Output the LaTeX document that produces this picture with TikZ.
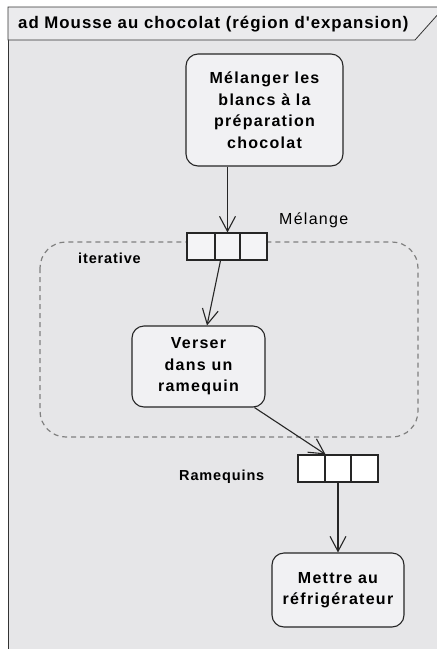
\documentclass[tikz,border=0pt]{standalone}
\usepackage{fontspec}
\setmainfont{Liberation Sans}
\usetikzlibrary{arrows.meta,calc}
\definecolor{bg}{HTML}{E6E6E8}
\definecolor{hdr}{HTML}{EBEBED}
\definecolor{boxfill}{HTML}{F1F1F3}
\definecolor{pinfill}{HTML}{F4F4F6}
\definecolor{dashc}{HTML}{808080}
\newfontfamily\spaced[LetterSpace=8]{Liberation Sans}
\newfontfamily\spacedb[LetterSpace=6]{Liberation Sans}
\tikzset{
  x=1pt,y=-1pt,
  action/.style={draw=black!85,line width=1.1pt,fill=boxfill,rounded corners=12pt,
     align=center,font=\spaced\bfseries\fontsize{16}{21.5}\selectfont,inner sep=0pt},
  pinsq/.style={draw=black!85,line width=1.1pt,fill=pinfill,inner sep=0pt},
  flow/.style={draw=black!85,line width=1.1pt,-{Straight Barb[length=15pt,width=16pt,line width=1.1pt]}},
  lbl/.style={font=\spaced\fontsize{16}{18}\selectfont,inner sep=0pt},
  blbl/.style={font=\spacedb\bfseries\fontsize{14.5}{16}\selectfont,inner sep=0pt},
}
\begin{document}
\begin{tikzpicture}
\useasboundingbox (0,0) rectangle (437,649);
\fill[white] (0,0) rectangle (437,649);
% frame
\filldraw[fill=bg,draw=black!80,line width=0.8pt] (8,7) -- (440,7) -- (440,655) -- (8,655) -- cycle;
\filldraw[fill=hdr,draw=black!80,line width=0.8pt] (8,7) -- (440,7) -- (440,12) -- (415,40) -- (8,40) -- cycle;
\node[anchor=west,font=\spacedb\bfseries\fontsize{16.8}{18}\selectfont,inner sep=0pt] (title) at (18,24) {ad Mousse au chocolat (région d'expansion)};
% expansion region
\draw[dashc,line width=1.2pt,dash pattern=on 5pt off 4pt,rounded corners=26pt] (40,242) rectangle (418,437);
\node[blbl,anchor=west] (iter) at (78,258) {iterative};
% actions
\node[action,minimum width=157pt,minimum height=112pt] (a1) at (264.5,110) {Mélanger les\\blancs à la\\préparation\\chocolat};
\node[action,minimum width=133pt,minimum height=81pt] (a2) at (198.5,366.5) {Verser\\dans un\\ramequin};
\node[action,minimum width=132pt,minimum height=74pt] (a3) at (338,590) {Mettre au\\réfrigérateur};
% pin 1
\node[pinsq,minimum width=28pt,minimum height=27pt] (p1a) at (201,246.5) {};
\node[pinsq,minimum width=25pt,minimum height=27pt] (p1b) at (227.5,246.5) {};
\node[pinsq,minimum width=27pt,minimum height=27pt] (p1c) at (253.5,246.5) {};
\node[lbl,anchor=west] (mel) at (279,220) {Mélange};
% pin 2
\node[pinsq,minimum width=27pt,minimum height=27pt,fill=white] (p2a) at (311.5,468.5) {};
\node[pinsq,minimum width=26pt,minimum height=27pt,fill=white] (p2b) at (338,468.5) {};
\node[pinsq,minimum width=27pt,minimum height=27pt,fill=white] (p2c) at (364.5,468.5) {};
\node[blbl,anchor=west] (ram) at (179,477) {Ramequins};
% flows
\draw[flow] (a1.south -| p1b.north) -- (p1b.north);
\draw[flow] ([xshift=-7pt]p1b.south) -- ([xshift=8.5pt]a2.north);
\draw[flow] ([xshift=56pt]a2.south) -- (p2a.north east);
\draw[flow] (p2b.south) -- (a3.north);
\end{tikzpicture}
\end{document}
